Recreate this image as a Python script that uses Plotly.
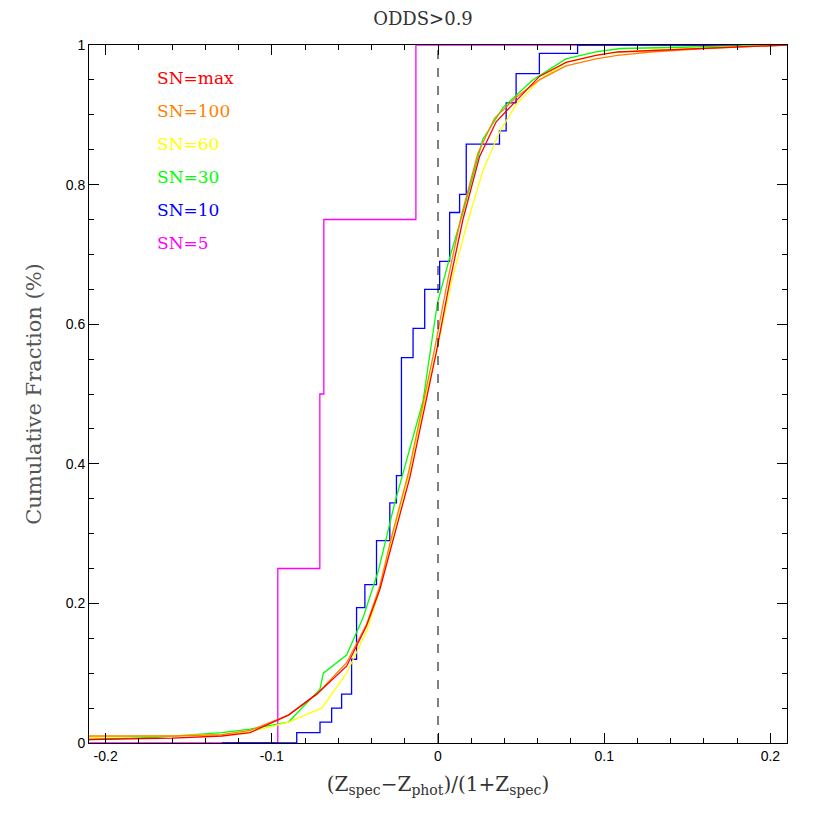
import plotly.graph_objects as go

red_x = [-0.21, -0.16, -0.13, -0.113, -0.09, -0.073, -0.055, -0.043, -0.035, -0.027, -0.017, -0.009, -0.001, 0.007, 0.015, 0.025, 0.035, 0.047, 0.061, 0.077, 0.095, 0.108, 0.128, 0.16, 0.21]
red_y = [0.005, 0.007, 0.01, 0.015, 0.04, 0.07, 0.11, 0.168, 0.22, 0.29, 0.38, 0.47, 0.56, 0.66, 0.75, 0.84, 0.89, 0.92, 0.955, 0.975, 0.985, 0.99, 0.992, 0.995, 1.0]
orange_x = [-0.21, -0.16, -0.13, -0.113, -0.09, -0.073, -0.055, -0.043, -0.035, -0.028, -0.018, -0.010, -0.002, 0.006, 0.014, 0.024, 0.034, 0.047, 0.061, 0.077, 0.095, 0.108, 0.128, 0.16, 0.21]
orange_y = [0.01, 0.01, 0.012, 0.018, 0.04, 0.07, 0.115, 0.17, 0.225, 0.295, 0.385, 0.475, 0.565, 0.665, 0.755, 0.845, 0.895, 0.925, 0.95, 0.97, 0.98, 0.985, 0.99, 0.995, 1.0]
yellow_x = [-0.21, -0.16, -0.13, -0.113, -0.09, -0.07, -0.055, -0.043, -0.035, -0.027, -0.017, -0.009, 0.0, 0.008, 0.017, 0.027, 0.037, 0.047, 0.061, 0.077, 0.095, 0.11, 0.13, 0.16, 0.21]
yellow_y = [0.008, 0.01, 0.012, 0.016, 0.03, 0.05, 0.1, 0.16, 0.22, 0.3, 0.39, 0.48, 0.57, 0.66, 0.74, 0.82, 0.875, 0.915, 0.95, 0.975, 0.985, 0.99, 0.993, 0.996, 1.0]
green_x = [-0.21, -0.17, -0.13, -0.113, -0.09, -0.071, -0.069, -0.055, -0.045, -0.036, -0.026, -0.017, -0.009, -0.0004, 0.007, 0.015, 0.027, 0.039, 0.048, 0.057, 0.077, 0.095, 0.11, 0.16, 0.21]
green_y = [0.005, 0.008, 0.015, 0.02, 0.03, 0.077, 0.1, 0.126, 0.18, 0.246, 0.344, 0.42, 0.49, 0.63, 0.695, 0.76, 0.865, 0.91, 0.93, 0.95, 0.98, 0.99, 0.995, 0.998, 1.0]
blue_x = [-0.13, -0.085, -0.071, -0.064, -0.058, -0.052, -0.049, -0.044, -0.037, -0.029, -0.025, -0.022, -0.015, -0.008, -0.002, 0.001, 0.007, 0.013, 0.017, 0.029, 0.037, 0.041, 0.047, 0.061, 0.084, 0.21]
blue_y = [0.0, 0.015, 0.03, 0.05, 0.07, 0.12, 0.194, 0.227, 0.29, 0.344, 0.383, 0.552, 0.594, 0.65, 0.65, 0.69, 0.76, 0.786, 0.858, 0.858, 0.877, 0.917, 0.959, 0.988, 1.0, 1.0]
mag_x = [-0.21, -0.0964, -0.0711, -0.0687, -0.0133, 0.21]
mag_y = [0.0, 0.25, 0.5, 0.75, 1.0, 1.0]

labels = ["SN=max", "SN=100", "SN=60", "SN=30", "SN=10", "SN=5"]
colors = ["#ff0000", "#ff7f00", "#ffff00", "#00ff00", "#0000ff", "#ff00ff"]

fig = go.Figure()
series = [(red_x, red_y, "linear"), (orange_x, orange_y, "linear"), (yellow_x, yellow_y, "linear"),
          (green_x, green_y, "linear"), (blue_x, blue_y, "hv"), (mag_x, mag_y, "hv")]
order = [5, 4, 3, 2, 1, 0]
for i in order:
    x, y, sh = series[i]
    fig.add_trace(go.Scatter(x=x, y=y, mode="lines", line=dict(color=colors[i], width=1.3, shape=sh), showlegend=False))

fig.add_shape(type="line", x0=0, x1=0, y0=0, y1=1, xref="x", yref="y", line=dict(color="black", width=1, dash="dash"))

for k, (lab, c) in enumerate(zip(labels, colors)):
    fig.add_annotation(x=-0.17, y=0.953 - k * 0.0473, text=lab, showarrow=False, xanchor="left",
                       font=dict(color=c, size=17, family="DejaVu Serif"))

axis_common = dict(showgrid=False, zeroline=False, ticks="inside", mirror="allticks", showline=True,
                   linecolor="black", linewidth=1, ticklen=10, tickcolor="black",
                   tickfont=dict(family="Liberation Sans", size=14, color="black"))
fig.update_xaxes(range=[-0.21, 0.21], tickvals=[-0.2, -0.1, 0, 0.1, 0.2], ticktext=["-0.2", "-0.1", "0", "0.1", "0.2"],
                 minor=dict(dtick=0.02, ticks="inside", ticklen=5, tickcolor="black"),
                 title=dict(text="(Z<sub>spec</sub>\u2212Z<sub>phot</sub>)/(1+Z<sub>spec</sub>)", font=dict(family="DejaVu Serif", size=20, color="#333"), standoff=14),
                 **axis_common)
fig.update_yaxes(range=[0, 1], tickvals=[0, 0.2, 0.4, 0.6, 0.8, 1], ticktext=["0", "0.2", "0.4", "0.6", "0.8", "1"],
                 minor=dict(dtick=0.05, ticks="inside", ticklen=5, tickcolor="black"),
                 title=dict(text="Cumulative Fraction (%)", font=dict(family="DejaVu Serif", size=21, color="#555"), standoff=18),
                 **axis_common)
fig.update_layout(width=830, height=830, margin=dict(l=81, r=51, t=37, b=95), plot_bgcolor="white", paper_bgcolor="white",
                  title=dict(text="ODDS>0.9", x=0.5, xanchor="center", y=0.995, yanchor="top", font=dict(family="DejaVu Serif", size=18, color="#333")))
fig.write_html("out.html")
